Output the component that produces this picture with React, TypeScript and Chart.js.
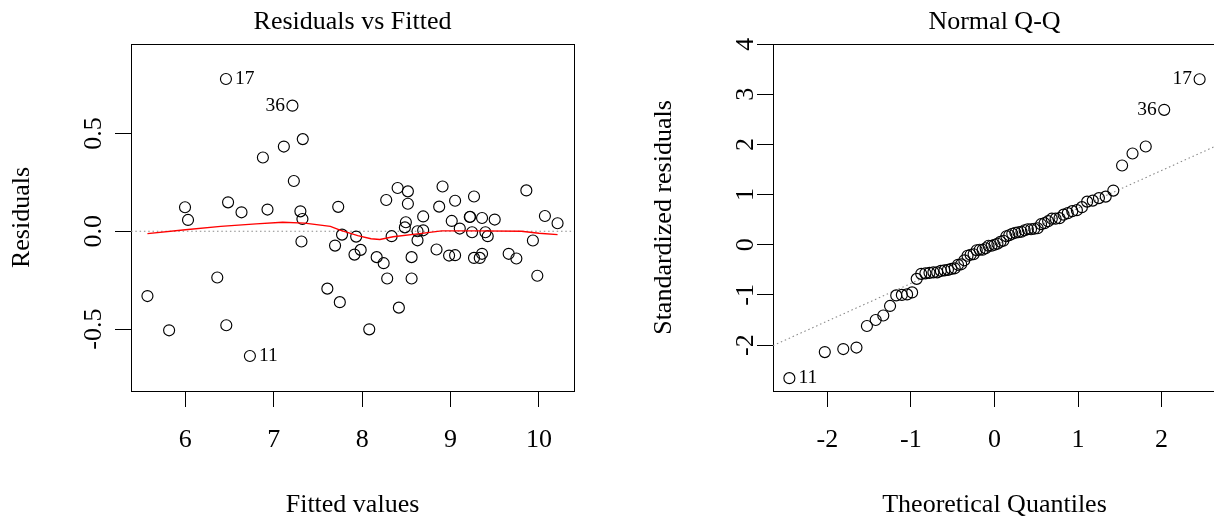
import React, { useEffect, useRef } from "react";
import { Chart, registerables } from "chart.js";

Chart.register(...registerables);

const FONT_FAMILY = "'Liberation Serif', 'Times New Roman', Times, serif";
const FONT_SIZE = 26;
const ID_FONT_SIZE = 19.5;

// ---------- Residuals vs Fitted ----------
const fittedValues = [
  5.571, 5.816, 5.996, 6.03, 6.361, 6.459, 6.463, 6.483, 6.635, 6.73,
  6.877, 6.929, 7.114, 7.211, 7.227, 7.301, 7.324, 7.313, 7.328, 7.606,
  7.693, 7.729, 7.747, 7.772, 7.913, 7.932, 7.983, 8.08, 8.164, 8.243,
  8.272, 8.283, 8.333, 8.401, 8.415, 8.517, 8.517, 8.494, 8.483, 8.626,
  8.69, 8.626, 8.69, 8.559, 8.559, 8.909, 8.871, 9.051, 9.265, 9.013,
  9.104, 9.217, 9.221, 9.356, 9.499, 9.243, 9.394, 9.42, 8.841, 8.983,
  9.051, 9.265, 9.33, 9.356, 9.657, 9.744, 9.857, 9.931, 9.981, 10.067,
  10.21,
];
const residualValues = [
  -0.331, -0.506, 0.123, 0.058, -0.236, 0.778, -0.48, 0.148, 0.097, -0.637,
  0.377, 0.111, 0.433, 0.642, 0.257, 0.102, 0.063, -0.052, 0.471, -0.293,
  -0.073, 0.125, -0.362, -0.017, -0.119, -0.027, -0.095, -0.501, -0.132, -0.163,
  0.16, -0.241, -0.025, 0.221, -0.39, 0.204, 0.141, 0.046, 0.02, 0.0,
  0.005, -0.046, 0.076, -0.132, -0.241, 0.229, 0.126, 0.156, 0.178, 0.053,
  0.014, 0.073, 0.074, 0.068, 0.06, -0.005, -0.005, -0.025, -0.093, -0.124,
  -0.122, -0.136, -0.136, -0.115, -0.115, -0.139, 0.209, -0.047, -0.227, 0.078,
  0.041,
];
const lowessX = [5.571, 6.0, 6.4, 6.8, 7.1, 7.35, 7.64, 7.75, 7.95, 8.1, 8.2, 8.35, 8.65, 8.9, 9.3, 9.8, 10.0, 10.21];
const lowessY = [-0.012, 0.008, 0.025, 0.038, 0.046, 0.042, 0.025, 0.006, -0.022, -0.038, -0.042, -0.028, -0.012, 0.002, 0.002, 0.0, -0.01, -0.017];
const residXRange = [5.385, 10.396];
const residYRange = [-0.816, 0.957];
const residZeroY = [0, 0];
const residXStep = 1;
const residYStep = 0.5;

// ---------- Normal Q-Q ----------
const theoreticalQuantiles = [
  -2.455, -2.031, -1.81, -1.652, -1.527, -1.422, -1.331, -1.25, -1.176, -1.109,
  -1.046, -0.986, -0.931, -0.877, -0.827, -0.778, -0.731, -0.686, -0.642, -0.599,
  -0.557, -0.516, -0.476, -0.437, -0.399, -0.361, -0.323, -0.286, -0.25, -0.213,
  -0.177, -0.142, -0.106, -0.071, -0.035, 0.0, 0.035, 0.071, 0.106, 0.142,
  0.177, 0.213, 0.25, 0.286, 0.323, 0.361, 0.399, 0.437, 0.476, 0.516,
  0.557, 0.599, 0.642, 0.686, 0.731, 0.778, 0.827, 0.877, 0.931, 0.986,
  1.046, 1.109, 1.176, 1.25, 1.331, 1.422, 1.527, 1.652, 1.81, 2.031,
  2.455,
];
const standardizedResiduals = [
  -2.66, -2.14, -2.08, -2.05, -1.62, -1.5, -1.41, -1.22, -1.01, -1.0,
  -0.99, -0.95, -0.68, -0.58, -0.57, -0.56, -0.55, -0.55, -0.52, -0.51,
  -0.5, -0.48, -0.47, -0.4, -0.39, -0.31, -0.22, -0.2, -0.19, -0.11,
  -0.1, -0.1, -0.07, -0.02, -0.02, 0.0, 0.02, 0.06, 0.08, 0.17,
  0.19, 0.22, 0.24, 0.25, 0.26, 0.29, 0.31, 0.31, 0.32, 0.33,
  0.41, 0.43, 0.47, 0.52, 0.52, 0.53, 0.6, 0.63, 0.67, 0.69,
  0.75, 0.86, 0.88, 0.93, 0.96, 1.08, 1.58, 1.82, 1.96, 2.69,
  3.3,
];
const qqLineX = [-2.651, 2.651];
const qqLineY = [-2.01, 1.97];
const qqXRange = [-2.651, 2.651];
const qqYRange = [-2.916, 4.003];
const qqXStep = 1;
const qqYStep = 1;

// ---------- identified points ----------
const idLabels = ["17", "36", "11"];
const residIdIndex = [5, 13, 9];
const residIdSide = ["right", "left", "right"];
const qqIdIndex = [70, 69, 0];
const qqIdSide = ["left", "left", "right"];

const font = (size: number) => ({ family: FONT_FAMILY, size, weight: "normal" as const });

const idLabelPlugin = {
  id: "idLabels",
  afterDatasetsDraw(chart: any, _args: any, opts: any) {
    const meta = chart.getDatasetMeta(opts.datasetIndex);
    const ctx = chart.ctx;
    ctx.save();
    ctx.font = `${ID_FONT_SIZE}px ${FONT_FAMILY}`;
    ctx.fillStyle = "#000";
    ctx.textBaseline = "middle";
    opts.indices.forEach((idx: number, k: number) => {
      const el = meta.data[idx];
      if (!el) return;
      const right = opts.sides[k] === "right";
      ctx.textAlign = right ? "left" : "right";
      ctx.fillText(opts.texts[k], right ? el.x + 9 : el.x - 7.5, el.y);
    });
    ctx.restore();
  },
};

function mainAxis(
  min: number,
  max: number,
  step: number,
  title: string,
  vertical: boolean,
  fmt: (v: number) => string
) {
  return {
    type: "linear" as const,
    position: vertical ? ("left" as const) : ("bottom" as const),
    min,
    max,
    grid: { display: true, drawOnChartArea: false, drawTicks: true, tickLength: 16, color: "#000", lineWidth: 1 },
    border: { display: true, color: "#000", width: 1 },
    ticks: {
      stepSize: step,
      includeBounds: false,
      autoSkip: false,
      color: "#000",
      font: font(FONT_SIZE),
      padding: vertical ? 0 : 17.4,
      callback: (v: any) => fmt(Number(v)),
      ...(vertical ? { minRotation: 90, maxRotation: 90, crossAlign: "center" as const } : {}),
    },
    title: {
      display: true,
      text: title,
      color: "#000",
      font: font(FONT_SIZE),
      padding: vertical ? { top: 6.4, bottom: 0 } : { top: 0, bottom: 2.4 },
    },
    afterFit: (s: any) => {
      if (vertical) s.width = 131;
      else s.height = 132;
    },
  };
}

function frameAxis(min: number, max: number, vertical: boolean) {
  return {
    type: "linear" as const,
    position: vertical ? ("right" as const) : ("top" as const),
    min,
    max,
    grid: { display: false },
    border: { display: true, color: "#000", width: 1 },
    ticks: { display: false },
    afterFit: (s: any) => {
      if (vertical) s.width = 131;
      else s.height = 0;
    },
  };
}

function pointsDataset(xs: number[], ys: number[]) {
  return {
    type: "scatter" as const,
    data: xs.map((x, i) => ({ x, y: ys[i] })),
    showLine: false,
    pointStyle: "circle" as const,
    pointRadius: 5.5,
    pointBorderWidth: 1.15,
    pointBorderColor: "#000",
    pointBackgroundColor: "rgba(0,0,0,0)",
    order: 1,
  };
}

function lineDataset(xs: number[], ys: number[], color: string, width: number, dash: number[], order: number) {
  return {
    type: "scatter" as const,
    data: xs.map((x, i) => ({ x, y: ys[i] })),
    showLine: true,
    borderColor: color,
    borderWidth: width,
    borderDash: dash,
    pointRadius: 0,
    fill: false,
    tension: 0,
    order,
  };
}

function baseOptions(
  titleText: string,
  xr: number[],
  yr: number[],
  xStep: number,
  yStep: number,
  xTitle: string,
  yTitle: string,
  yFmt: (v: number) => string,
  idOpts: any
) {
  return {
    responsive: false,
    animation: false as const,
    events: [] as any[],
    layout: { padding: 0 },
    plugins: {
      legend: { display: false },
      tooltip: { enabled: false },
      title: {
        display: true,
        text: titleText,
        color: "#000",
        font: font(FONT_SIZE),
        padding: { top: 6.4, bottom: 6.4 },
      },
      idLabels: idOpts,
    },
    scales: {
      x: mainAxis(xr[0], xr[1], xStep, xTitle, false, (v) => String(v)),
      y: mainAxis(yr[0], yr[1], yStep, yTitle, true, yFmt),
      x2: frameAxis(xr[0], xr[1], false),
      y2: frameAxis(yr[0], yr[1], true),
    },
  };
}

export default function App() {
  const leftRef = useRef<HTMLCanvasElement>(null);
  const rightRef = useRef<HTMLCanvasElement>(null);

  useEffect(() => {
    const left = new Chart(leftRef.current as HTMLCanvasElement, {
      type: "scatter",
      data: {
        datasets: [
          lineDataset(lowessX, lowessY, "#ff0000", 1.4, [], 0),
          pointsDataset(fittedValues, residualValues),
          lineDataset(residXRange, residZeroY, "#8a8a8a", 1.1, [1.5, 2.8], 2),
        ] as any,
      },
      options: baseOptions(
        "Residuals vs Fitted",
        residXRange,
        residYRange,
        residXStep,
        residYStep,
        "Fitted values",
        "Residuals",
        (v) => v.toFixed(1),
        { datasetIndex: 1, indices: residIdIndex, sides: residIdSide, texts: idLabels }
      ) as any,
      plugins: [idLabelPlugin],
    });

    const right = new Chart(rightRef.current as HTMLCanvasElement, {
      type: "scatter",
      data: {
        datasets: [
          pointsDataset(theoreticalQuantiles, standardizedResiduals),
          lineDataset(qqLineX, qqLineY, "#8a8a8a", 1.1, [1.5, 2.8], 2),
        ] as any,
      },
      options: baseOptions(
        "Normal Q-Q",
        qqXRange,
        qqYRange,
        qqXStep,
        qqYStep,
        "Theoretical Quantiles",
        "Standardized residuals",
        (v) => String(v),
        { datasetIndex: 0, indices: qqIdIndex, sides: qqIdSide, texts: idLabels }
      ) as any,
      plugins: [idLabelPlugin],
    });

    return () => {
      left.destroy();
      right.destroy();
    };
  }, []);

  return (
    <div
      style={{
        position: "fixed",
        left: 0,
        top: 0,
        width: 1214,
        height: 523,
        overflow: "hidden",
        background: "#fff",
      }}
    >
      <canvas
        ref={leftRef}
        width={705}
        height={523}
        style={{ position: "absolute", left: 0, top: 0, width: 705, height: 523 }}
      />
      <canvas
        ref={rightRef}
        width={705}
        height={523}
        style={{ position: "absolute", left: 642, top: 0, width: 705, height: 523 }}
      />
    </div>
  );
}
